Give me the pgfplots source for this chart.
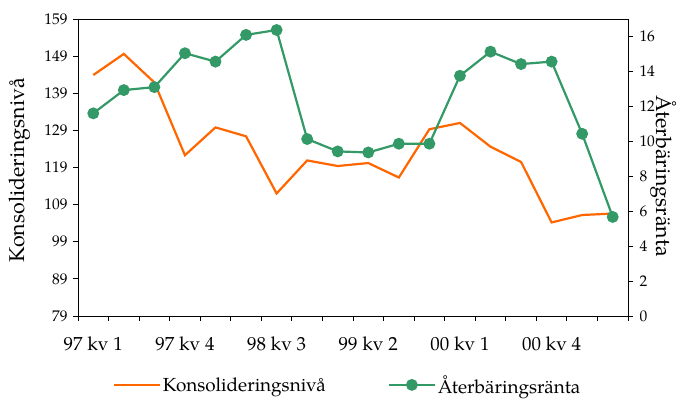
\documentclass[border=0pt]{standalone}
\usepackage{fontspec}
\setmainfont{TeX Gyre Pagella}
\usepackage{pgfplots}
\pgfplotsset{compat=1.18}
\definecolor{kons}{RGB}{255,102,0}
\definecolor{ater}{RGB}{51,153,102}

\pgfplotstableread{
x k
0 143.9
1 149.6
2 141.9
3 122.3
4 129.8
5 127.4
6 112.0
7 120.9
8 119.4
9 120.2
10 116.3
11 129.3
12 131.0
13 124.6
14 120.5
15 104.2
16 106.2
17 106.6
}\konsdata

\pgfplotstableread{
x a
0 11.60
1 12.93
2 13.10
3 15.04
4 14.56
5 16.09
6 16.37
7 10.13
8 9.42
9 9.36
10 9.86
11 9.86
12 13.75
13 15.13
14 14.42
15 14.56
16 10.43
17 5.67
}\aterdata

\begin{document}
\begin{tikzpicture}
\pgfplotsset{
  base/.style={
    scale only axis, width=550bp, height=297bp,
    xmin=-0.5, xmax=17.5,
    tick align=outside,
    major tick length=5bp, minor tick length=5bp,
    /pgf/number format/assume math mode=true,
    ticklabel style={font=\fontsize{15.5}{16}\selectfont},
    label style={font=\fontsize{21.5}{22}\selectfont},
    tick style={black, line width=0.8bp},
    axis line style={line width=0.9bp},
  }
}
\begin{axis}[base, name=a1,
  ymin=79, ymax=159,
  ytick={79,89,...,159},
  ytick pos=left, xtick pos=bottom,
  xtick={0,3,...,15},
  xticklabels={97 kv 1,97 kv 4,98 kv 3,99 kv 2,00 kv 1,00 kv 4},
  major x tick style={draw=none},
  minor xtick={-0.5,0.5,...,17.5},
  xticklabel style={yshift=-12bp, font=\fontsize{19}{20}\selectfont},
  yticklabel style={xshift=-2bp},
  ylabel={Konsolideringsnivå},
  ylabel style={at={(axis description cs:-0.105,0.49)}, anchor=center},
]
\addplot[kons, line width=2.2bp] table[x=x,y=k] {\konsdata};
\end{axis}
\begin{axis}[base,
  ymin=0, ymax=17,
  ytick={0,2,...,16},
  axis y line*=right, axis x line=none,
  yticklabel style={xshift=3bp},
  ylabel={Återbäringsränta},
  ylabel style={at={(axis description cs:1.064,0.47)}, anchor=center, rotate=180},
  legend style={at={(axis description cs:0.49,-0.232)}, anchor=center, draw=none,
    font=\fontsize{19}{20}\selectfont, legend columns=2,
    /tikz/every even column/.append style={column sep=60bp}},
  legend image code/.code={\draw[mark repeat=2,mark phase=2,#1] plot coordinates {(0bp,0bp) (23bp,0bp) (46bp,0bp)};},
]
\addlegendimage{kons, line width=2.2bp}
\addlegendentry{Konsolideringsnivå}
\addplot[ater, line width=2.2bp, mark=*, mark size=4.8bp, mark options={fill=ater, draw=ater}] table[x=x,y=a] {\aterdata};
\addlegendentry{Återbäringsränta}
\end{axis}
\pgfresetboundingbox
\path ([xshift=-78bp,yshift=-87bp]a1.south west) rectangle ([xshift=49bp,yshift=19bp]a1.north east);
\end{tikzpicture}
\end{document}
